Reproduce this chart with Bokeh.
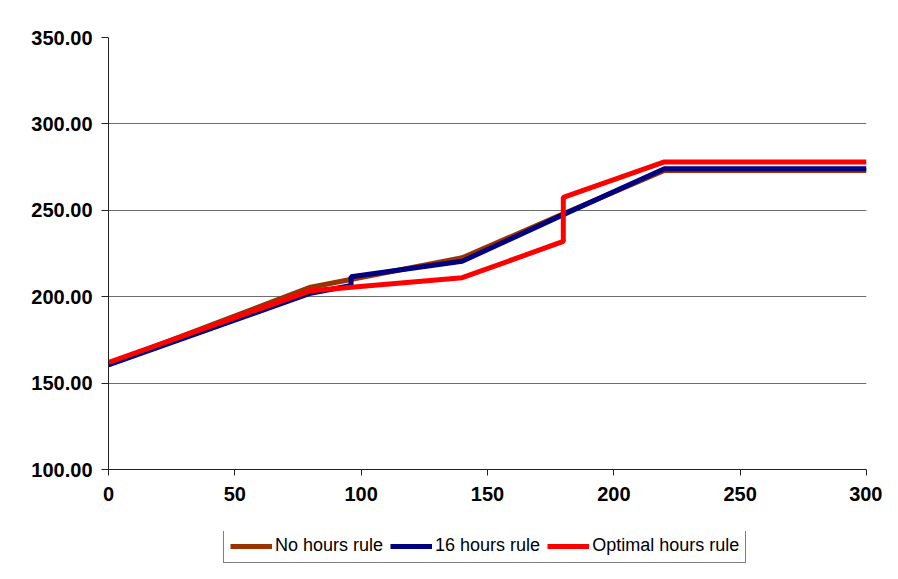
from bokeh.plotting import figure
from bokeh.layouts import column
from bokeh.models import Legend, LegendItem, PrintfTickFormatter, FixedTicker, Range1d
from bokeh.embed import file_html
from bokeh.resources import INLINE

# Data
no_rule_x = [0, 80, 140, 180, 220, 300]
no_rule_y = [161.0, 205.5, 222.5, 248.0, 273.0, 273.0]
h16_x = [0, 80, 96, 96, 140, 180, 220, 300]
h16_y = [160.5, 202.0, 206.5, 211.5, 220.5, 247.5, 274.0, 274.0]
opt_x = [0, 80, 140, 180, 180, 220, 300]
opt_y = [162.0, 203.5, 211.0, 232.0, 257.5, 278.0, 278.0]
x_ticks = [0, 50, 100, 150, 200, 250, 300]
y_ticks = [100, 150, 200, 250, 300, 350]
labels = ["No hours rule", "16 hours rule", "Optimal hours rule"]
colors = ["#993300", "#000080", "#FF0000"]

font = "Liberation Sans"

p = figure(frame_width=758, frame_height=432, output_backend="svg", toolbar_location=None,
           x_range=Range1d(0, 300), y_range=Range1d(100, 350),
           min_border_left=108, min_border_right=16, min_border_top=37, min_border_bottom=62)
p.outline_line_color = None
p.background_fill_color = "white"
p.border_fill_color = "white"

p.line(no_rule_x, no_rule_y, line_color=colors[0], line_width=5)
p.line(h16_x, h16_y, line_color=colors[1], line_width=5)
p.line(opt_x, opt_y, line_color=colors[2], line_width=5)

for ax in (p.xaxis[0], p.yaxis[0]):
    ax.major_label_text_font = font
    ax.major_label_text_font_style = "bold"
    ax.major_label_text_font_size = "20px"
    ax.major_label_text_color = "black"
    ax.axis_line_color = "#222222"
    ax.axis_line_width = 1
    ax.major_tick_line_color = "#222222"
    ax.major_tick_out = 7
    ax.major_tick_in = 0
    ax.minor_tick_line_color = None
p.xaxis[0].ticker = FixedTicker(ticks=x_ticks)
p.yaxis[0].ticker = FixedTicker(ticks=y_ticks)
p.yaxis[0].formatter = PrintfTickFormatter(format="%.2f")
p.xaxis[0].major_tick_out = 6
p.xaxis[0].major_label_standoff = 11
p.yaxis[0].major_label_standoff = 9

p.xgrid.grid_line_color = None
p.ygrid.grid_line_color = "#6e6e6e"
p.ygrid.grid_line_width = 1
p.ygrid.ticker = FixedTicker(ticks=y_ticks)

# Legend strip: same series, drawn outside its visible range so only the legend shows
lg = figure(width=882, height=32, output_backend="svg", toolbar_location=None,
            x_range=Range1d(0, 300), y_range=Range1d(0, 1),
            min_border=0, min_border_left=0, min_border_right=0, min_border_top=0, min_border_bottom=0)
lg.axis.visible = False
lg.grid.visible = False
lg.outline_line_color = None
lg.border_fill_color = "white"
lg.background_fill_color = "white"
q1 = lg.line(no_rule_x, no_rule_y, line_color=colors[0], line_width=5)
q2 = lg.line(h16_x, h16_y, line_color=colors[1], line_width=5)
q3 = lg.line(opt_x, opt_y, line_color=colors[2], line_width=5)

legend = Legend(items=[LegendItem(label=labels[0], renderers=[q1]),
                       LegendItem(label=labels[1], renderers=[q2]),
                       LegendItem(label=labels[2], renderers=[q3])],
                orientation="horizontal", location=(115, 0))
legend.label_text_font = font
legend.label_text_font_size = "18px"
legend.label_text_color = "black"
legend.label_height = 20
legend.glyph_width = 42
legend.glyph_height = 16
legend.label_standoff = 3
legend.spacing = 7
legend.padding = 6
legend.margin = 0
legend.border_line_color = "black"
legend.border_line_width = 1
legend.background_fill_alpha = 1
lg.add_layout(legend, "center")

layout = column(p, lg, spacing=0)
open("out.html", "w").write(file_html(layout, INLINE))
